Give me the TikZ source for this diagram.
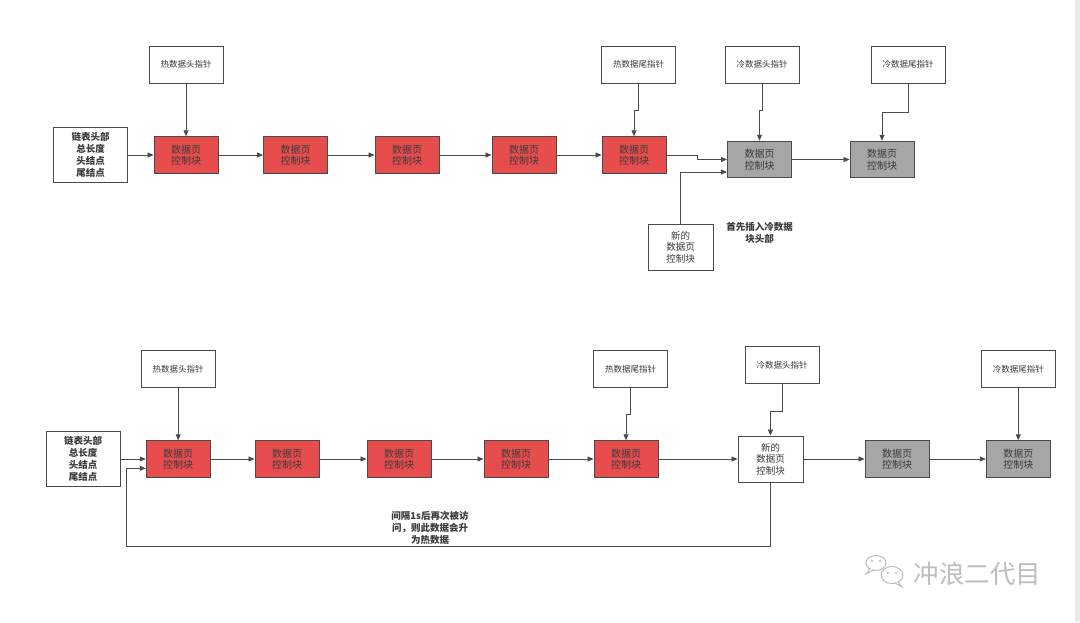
\documentclass[tikz,border=0pt]{standalone}
\usepackage{fontspec}
\setmainfont{Noto Sans CJK SC}
\usetikzlibrary{arrows.meta,calc}
\definecolor{redfill}{HTML}{E84D4D}
\definecolor{grayfill}{HTML}{A6A6A6}
\definecolor{edge}{HTML}{4A4A4A}
\definecolor{txt}{HTML}{3A3A3A}
\definecolor{wm}{HTML}{BDBDBD}
\definecolor{barc}{HTML}{EBEBEB}
\begin{document}
\begin{tikzpicture}[x=1pt,y=-1pt,
  box/.style={draw=edge, line width=0.9pt, inner sep=0pt, align=center, text=txt},
  redbox/.style={box, fill=redfill, minimum width=64pt, minimum height=36.6pt, font=\fontsize{10}{11.5}\selectfont},
  graybox/.style={redbox, fill=grayfill},
  ptr/.style={box, fill=white, minimum width=74pt, minimum height=37pt, font=\fontsize{8.5}{10}\selectfont},
  hdr/.style={box, fill=white, minimum width=74pt, minimum height=55pt, font=\fontsize{9.5}{12}\selectfont\bfseries},
  newbox/.style={box, fill=white, minimum width=65pt, minimum height=46pt, font=\fontsize{9.5}{11.5}\selectfont},
  arr/.style={draw=edge, line width=0.8pt, -{Triangle[length=6pt,width=5pt]}},
  note/.style={align=center, font=\fontsize{9.5}{12}\selectfont\bfseries, text=txt}]
\useasboundingbox (0,0) rectangle (1080,622);
\fill[barc] (1075,0) rectangle (1080,622);

% ---------- top row ----------
\node[hdr] (h1) at (90.5,155) {链表头部\\总长度\\头结点\\尾结点};
\node[redbox] (a1) at (186,155) {数据页\\控制块};
\node[redbox] (a2) at (295.5,155) {数据页\\控制块};
\node[redbox] (a3) at (407,155) {数据页\\控制块};
\node[redbox] (a4) at (524,155) {数据页\\控制块};
\node[redbox] (a5) at (634,155) {数据页\\控制块};
\node[graybox] (a6) at (759.5,159.5) {数据页\\控制块};
\node[graybox] (a7) at (882,159.5) {数据页\\控制块};
\node[ptr] (t1) at (186,64.5) {热数据头指针};
\node[ptr] (t2) at (638.5,64.5) {热数据尾指针};
\node[ptr] (t3) at (762,64.5) {冷数据头指针};
\node[ptr] (t4) at (908,64.5) {冷数据尾指针};
\node[newbox] (n1) at (680.5,247) {新的\\数据页\\控制块};
\node[note] (m1) at (759.5,233) {首先插入冷数据\\块头部};

\draw[arr] (t1) -- (a1);
\draw[arr] (t2.south) -- ++(0,27) -| (a5.north);
\draw[arr] (t3.south) -- ++(0,27) -| (a6.north);
\draw[arr] (t4.south) -- ++(0,29) -| (a7.north);
\draw[arr] (h1) -- (a1);
\draw[arr] (a1) -- (a2);
\draw[arr] (a2) -- (a3);
\draw[arr] (a3) -- (a4);
\draw[arr] (a4) -- (a5);
\draw[arr] (a5.east) -- ++(31,0) |- (a6.west);
\draw[arr] (n1.north) |- ($(a6.west)+(0,12.5)$);
\draw[arr] (a6) -- (a7);

% ---------- bottom row ----------
\node[hdr] (h2) at (83,459) {链表头部\\总长度\\头结点\\尾结点};
\node[redbox] (b1) at (178.2,459) {数据页\\控制块};
\node[redbox] (b2) at (287,459) {数据页\\控制块};
\node[redbox] (b3) at (399,459) {数据页\\控制块};
\node[redbox] (b4) at (516,459) {数据页\\控制块};
\node[redbox] (b5) at (626,459) {数据页\\控制块};
\node[newbox] (n2) at (770.5,459) {新的\\数据页\\控制块};
\node[graybox] (b6) at (897,459) {数据页\\控制块};
\node[graybox] (b7) at (1018.3,459) {数据页\\控制块};
\node[ptr] (s1) at (178.2,369) {热数据头指针};
\node[ptr] (s2) at (630.5,369) {热数据尾指针};
\node[ptr] (s3) at (782,365.3) {冷数据头指针};
\node[ptr] (s4) at (1018.3,369) {冷数据尾指针};
\node[note] (m2) at (430,528) {间隔1s后再次被访\\问，则此数据会升\\为热数据};

\draw[arr] (s1) -- (b1);
\draw[arr] (s2.south) -- ++(0,26) -| (b5.north);
\draw[arr] (s3.south) -- ++(0,27) -| (n2.north);
\draw[arr] (s4) -- (b7);
\draw[arr] (h2) -- (b2.west -| b1.west);
\draw[arr] (b1) -- (b2);
\draw[arr] (b2) -- (b3);
\draw[arr] (b3) -- (b4);
\draw[arr] (b4) -- (b5);
\draw[arr] (b5) -- (n2);
\draw[arr] (n2) -- (b6);
\draw[arr] (b6) -- (b7);
\coordinate (loopc) at (126,546);
\draw[arr] (n2.south) |- (loopc) |- ($(b1.west)+(0,9.3)$);

% ---------- watermark ----------
\begin{scope}[draw=wm, line width=1pt]
  \draw[fill=white] (876,563) ellipse [x radius=10, y radius=7.5];
  \draw[fill=white] (870,569) -- (866,574) -- (874,570);
  \draw[fill=white] (892,575) ellipse [x radius=11, y radius=8.5];
  \draw[fill=white] (898,582) -- (902,587) -- (895,583);
  \fill[wm] (872,561) circle (1.1) (880,561) circle (1.1) (888,573) circle (1.1) (896,573) circle (1.1);
\end{scope}
\node[text=wm, font=\fontsize{25.5}{26}\selectfont, inner sep=0pt] (wmtext) at (977.5,574) {冲浪二代目};
\end{tikzpicture}
\end{document}
